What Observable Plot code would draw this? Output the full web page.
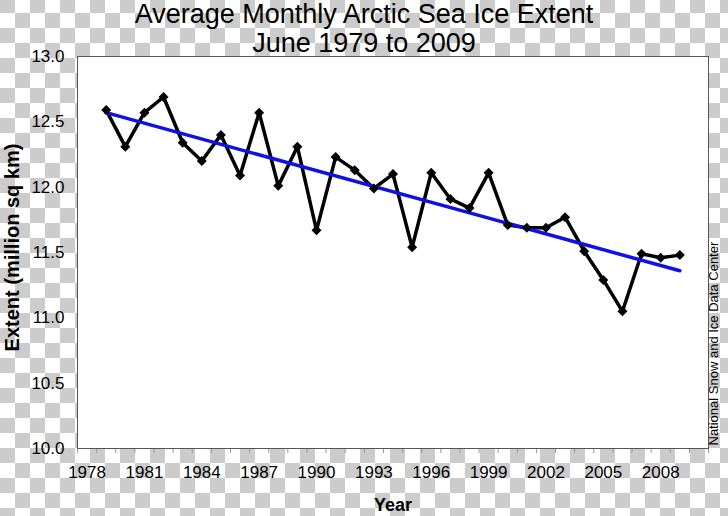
<!DOCTYPE html>
<html>
<head>
<meta charset="utf-8">
<script src="https://cdn.jsdelivr.net/npm/d3@7"></script>
<script src="https://cdn.jsdelivr.net/npm/@observablehq/plot@0.6"></script>
<style>
  html, body { margin: 0; padding: 0; }
  #wrap {
    position: relative; width: 728px; height: 516px; overflow: hidden;
    background: repeating-conic-gradient(#cccccc 0% 25%, #ffffff 0% 50%) 15px -2px / 30px 30px;
    font-family: "Liberation Sans", Arial, Helvetica, sans-serif;
  }
  #title {
    position: absolute; left: 0; top: 0; width: 728px; text-align: center;
    font-size: 27px; line-height: 29px; color: #000; z-index: 2;
  }
  #chart { position: absolute; left: 0; top: 0; z-index: 1; }
  #chart g[aria-label="x-axis tick label"],
  #chart g[aria-label="y-axis tick label"] { font-size: 17px !important; }
</style>
</head>
<body>
<div id="wrap">
  <div id="title">Average Monthly Arctic Sea Ice Extent<br>June 1979 to 2009</div>
  <div id="chart"></div>
</div>
<script>
const years = [1979,1980,1981,1982,1983,1984,1985,1986,1987,1988,1989,1990,1991,1992,1993,1994,1995,1996,1997,1998,1999,2000,2001,2002,2003,2004,2005,2006,2007,2008,2009];
const extent = [12.59,12.31,12.57,12.69,12.34,12.20,12.40,12.09,12.57,12.01,12.31,11.67,12.23,12.13,11.99,12.10,11.54,12.11,11.91,11.84,12.11,11.71,11.69,11.69,11.77,11.51,11.29,11.05,11.49,11.46,11.48];
const trendYears = [1979, 2009];
const trendValues = [12.57, 11.36];
const xTickLabels = [1978,1981,1984,1987,1990,1993,1996,1999,2002,2005,2008];
const xMinorTicks = d3.range(1977.5, 2010.6, 1);
const yTickLabels = [10.0,10.5,11.0,11.5,12.0,12.5,13.0];
const titleY = "Extent (million sq km)";
const titleX = "Year";
const credit = "National Snow and Ice Data Center";

const data = years.map((y, i) => ({year: y, extent: extent[i]}));
const trend = trendYears.map((y, i) => ({year: y, extent: trendValues[i]}));

const chart = Plot.plot({
  width: 728,
  height: 516,
  marginTop: 56,
  marginBottom: 68,
  marginLeft: 77,
  marginRight: 20,
  style: {background: "transparent", fontFamily: '"Liberation Sans", Arial, Helvetica, sans-serif', fontSize: "17px", color: "#000", overflow: "visible"},
  x: {domain: [1977.5, 2010.5]},
  y: {domain: [10, 13]},
  marks: [
    Plot.frame({fill: "white", stroke: "none"}),
    Plot.axisX({ticks: xMinorTicks, tickSize: 5, stroke: "#999", tickFormat: () => "", label: null}),
    Plot.axisX({ticks: xTickLabels, tickSize: 0, tickPadding: 17, tickFormat: "d", fontSize: 17, label: null}),
    Plot.axisY({ticks: yTickLabels, tickSize: 0, tickPadding: 13, tickFormat: d => d.toFixed(1), fontSize: 17, label: null}),
    Plot.line(data, {x: "year", y: "extent", stroke: "black", strokeWidth: 3.5}),
    Plot.line(trend, {x: "year", y: "extent", stroke: "#0f0fe6", strokeWidth: 3.5}),
    Plot.dot(data, {x: "year", y: "extent", symbol: "diamond2", r: 4.5, fill: "black", stroke: "none"}),
    Plot.frame({stroke: "#555", strokeWidth: 1}),
    Plot.text([titleY], {frameAnchor: "left", textAnchor: "middle", dx: -65, dy: -5, rotate: -90, fontWeight: "bold", fontSize: 20, fill: "black"}),
    Plot.text([titleX], {frameAnchor: "bottom", dy: 62, fontWeight: "bold", fontSize: 18, fill: "black"}),
    Plot.text([credit], {frameAnchor: "bottom-right", dx: 9, dy: -3, rotate: -90, textAnchor: "start", fontSize: 13, fill: "black"})
  ]
});
document.getElementById("chart").appendChild(chart);
</script>
</body>
</html>
